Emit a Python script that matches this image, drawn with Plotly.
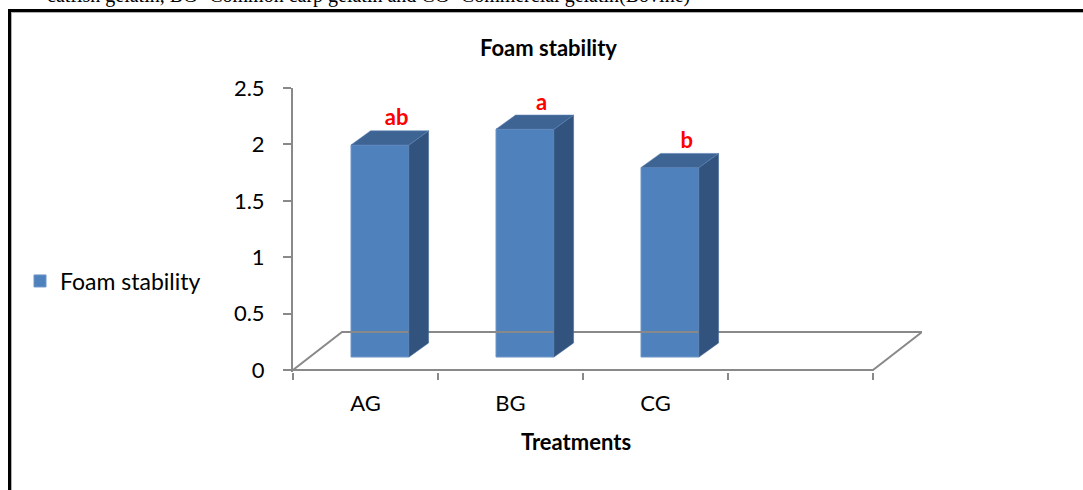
import plotly.graph_objects as go

# ---------------- data ----------------
categories = ["AG", "BG", "CG"]
foam_stability = [1.88, 2.02, 1.68]
letters = ["ab", "a", "b"]
y_tick_values = [0, 0.5, 1, 1.5, 2, 2.5]
y_tick_labels = ["0", "0.5", "1", "1.5", "2", "2.5"]
n_slots = 4  # Excel left one empty category slot

# ---------------- geometry / style ----------------
W, H = 1083, 490
L_PX, R_PX, T_PX, B_PX = 293, 922, 88, 372
SLOT_PX = 145.0
Y_PPU = 282 / 2.5
x_range = [-0.5, -0.5 + (R_PX - L_PX) / SLOT_PX]
y_range = [-(B_PX - 370) / Y_PPU, 2.5]

FLOOR_DX, FLOOR_DY = 0.338, 0.337
BAR_SHIFT, BAR_BASE, BAR_W = 0.1, 0.115, 0.4
DEP_DX, DEP_DY = 0.135, 0.125

FRONT = "#4F81BD"
SIDE = "#32537D"
TOP = "#3D6493"
GRID = "#898989"
FONT = "Lato"

pos = list(range(len(categories)))

fig = go.Figure()

# floor
fx0, fx1 = -0.5, -0.5 + n_slots
fig.add_trace(go.Scatter(
    x=[fx0, fx1, fx1 + FLOOR_DX, fx0 + FLOOR_DX, fx0],
    y=[0, 0, FLOOR_DY, FLOOR_DY, 0],
    mode="lines", line=dict(color=GRID, width=2),
    hoverinfo="skip", showlegend=False))

# front faces
fig.add_trace(go.Bar(
    x=[p + BAR_SHIFT for p in pos], y=foam_stability, base=BAR_BASE,
    width=BAR_W, name="Foam stability",
    marker=dict(color=FRONT, line=dict(color="#6F96C8", width=1))))

# side & top faces
sx, sy, tx, ty = [], [], [], []
for p, v in zip(pos, foam_stability):
    xl = p + BAR_SHIFT - BAR_W / 2
    xr = p + BAR_SHIFT + BAR_W / 2
    b = BAR_BASE
    t = BAR_BASE + v
    sx += [xr, xr + DEP_DX, xr + DEP_DX, xr, xr, None]
    sy += [b, b + DEP_DY, t + DEP_DY, t, b, None]
    tx += [xl, xl + DEP_DX, xr + DEP_DX, xr, xl, None]
    ty += [t, t + DEP_DY, t + DEP_DY, t, t, None]
fig.add_trace(go.Scatter(x=sx, y=sy, mode="lines", fill="toself",
                         fillcolor=SIDE, line=dict(color="#4A6E9C", width=0.6),
                         hoverinfo="skip", showlegend=False))
fig.add_trace(go.Scatter(x=tx, y=ty, mode="lines", fill="toself",
                         fillcolor=TOP, line=dict(color="#5A82B5", width=0.6),
                         hoverinfo="skip", showlegend=False))

# significance letters
fig.add_trace(go.Scatter(
    x=[p + BAR_SHIFT + DEP_DX * 0.85 for p in pos],
    y=[BAR_BASE + v + DEP_DY for v in foam_stability],
    mode="text", text=letters, textposition="top center",
    textfont=dict(family=FONT, size=22, color="#FF0000", weight="bold"),
    hoverinfo="skip", showlegend=False, cliponaxis=False))

def px_x(px):
    return (px - L_PX) / (R_PX - L_PX)

def px_y(py):
    return (B_PX - py) / (B_PX - T_PX)

shapes = [
    dict(type="line", xref="paper", yref="paper", x0=px_x(8), x1=px_x(1090),
         y0=px_y(10.5), y1=px_y(10.5), line=dict(color="black", width=3)),
    dict(type="line", xref="paper", yref="paper", x0=px_x(9.5), x1=px_x(9.5),
         y0=px_y(9), y1=px_y(500), line=dict(color="black", width=3)),
    dict(type="line", xref="paper", yref="paper", x0=px_x(11), x1=px_x(1090),
         y0=px_y(12.5), y1=px_y(12.5), line=dict(color="#B0B0B0", width=1)),
    dict(type="line", xref="paper", yref="paper", x0=px_x(11.5), x1=px_x(11.5),
         y0=px_y(12), y1=px_y(500), line=dict(color="#B0B0B0", width=1)),
]

annotations = [
    dict(text="Foam stability", xref="paper", yref="paper", x=px_x(548), y=px_y(48),
         xanchor="center", yanchor="middle", showarrow=False,
         font=dict(family=FONT, size=22, color="black", weight="bold")),
    dict(text="Treatments", xref="paper", yref="paper", x=px_x(576), y=px_y(442),
         xanchor="center", yanchor="middle", showarrow=False,
         font=dict(family=FONT, size=22, color="black", weight="bold")),
    dict(text="catfish gelatin, BG- Common carp gelatin and CG- Commercial gelatin(Bovine)",
         xref="paper", yref="paper", x=px_x(45), y=px_y(9), xanchor="left", yanchor="bottom",
         showarrow=False, font=dict(family="Liberation Serif", size=20, color="black")),
]

fig.update_layout(
    width=W, height=H, autosize=False,
    margin=dict(l=L_PX, r=W - R_PX, t=T_PX, b=H - B_PX, pad=0),
    paper_bgcolor="white", plot_bgcolor="white",
    showlegend=True,
    legend=dict(xref="container", yref="container", x=20 / W, y=1 - 281 / H,
                xanchor="left", yanchor="middle", bgcolor="rgba(0,0,0,0)",
                font=dict(family=FONT, size=23, color="black")),
    shapes=shapes, annotations=annotations,
    xaxis=dict(range=x_range, showgrid=False, zeroline=False, showline=False,
               tickmode="array", tickvals=pos, ticktext=categories, ticks="",
               ticklabelstandoff=16,
               tickfont=dict(family=FONT, size=22, color="black"),
               minor=dict(tickmode="array",
                          tickvals=[s - 0.5 for s in range(n_slots + 1)],
                          ticks="outside", ticklen=7, tickcolor=GRID, tickwidth=2),
               fixedrange=True),
    yaxis=dict(range=y_range, showgrid=False, zeroline=False, showline=True,
               linecolor=GRID, linewidth=2, ticks="outside", ticklen=8,
               tickcolor=GRID, tickwidth=2, tickmode="array",
               tickvals=y_tick_values, ticktext=y_tick_labels,
               ticklabelstandoff=14,
               tickfont=dict(family=FONT, size=22, color="black"),
               fixedrange=True),
)

fig.write_html("out.html")
